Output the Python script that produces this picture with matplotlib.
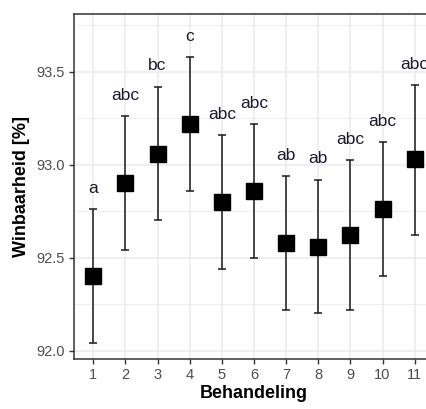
import matplotlib
matplotlib.use("Agg")
import matplotlib.pyplot as plt
from matplotlib.ticker import MultipleLocator

plt.rcParams['font.family'] = ['Liberation Sans', 'DejaVu Sans']

# Treatments, mean yield and interval bounds, significance letters
treatments = [1, 2, 3, 4, 5, 6, 7, 8, 9, 10, 11]
means = [92.40, 92.90, 93.06, 93.22, 92.80, 92.86, 92.58, 92.56, 92.62, 92.76, 93.03]
upper = [92.76, 93.26, 93.42, 93.58, 93.16, 93.22, 92.94, 92.92, 93.025, 93.12, 93.43]
lower = [92.04, 92.54, 92.70, 92.86, 92.44, 92.50, 92.22, 92.20, 92.22, 92.40, 92.62]
letters = ["a", "abc", "bc", "c", "abc", "abc", "ab", "ab", "abc", "abc", "abc"]

fig = plt.figure(figsize=(4.26, 4.09), dpi=100)
ax = fig.add_axes([0.1737, 0.1222, 0.845, 0.8435])

grid_c = "#EBEBEB"
ax.set_axisbelow(True)
ax.yaxis.set_major_locator(MultipleLocator(0.5))
ax.yaxis.set_minor_locator(MultipleLocator(0.25))
ax.grid(True, which="major", color=grid_c, lw=1.1)
ax.grid(True, which="minor", axis="y", color=grid_c, lw=0.6)
ax.tick_params(axis="y", which="minor", length=0)

yerr = [[m - l for m, l in zip(means, lower)], [u - m for m, u in zip(means, upper)]]
ax.errorbar(treatments, means, yerr=yerr, fmt="none", ecolor="#1a1a1a",
            elinewidth=1.1, capsize=3, capthick=1.1, zorder=2)
ax.plot(treatments, means, ls="none", marker="s", ms=11.5, color="black", zorder=3)

for x, u, t in zip(treatments, upper, letters):
    ax.annotate(t, (x, u), xytext=(0, 9.5), textcoords="offset points",
                ha="center", va="bottom", fontsize=12.5, color="#1a1a2e")

ax.set_xlim(0.4, 11.6)
ax.set_ylim(91.955, 93.81)
ax.set_xticks(treatments)
ax.set_yticks([92.0, 92.5, 93.0, 93.5])
ax.set_yticklabels(["92.0", "92.5", "93.0", "93.5"])

for s in ax.spines.values():
    s.set_color("#333333")
    s.set_linewidth(1.1)

ax.tick_params(axis="both", which="major", colors="#333333", length=3.5, width=1.0,
               labelsize=10.5, labelcolor="#4D4D4D", pad=3)

ax.set_xlabel("Behandeling", fontsize=13, fontweight="bold", labelpad=2)
ax.set_ylabel("Winbaarheid [%]", fontsize=13, fontweight="bold", labelpad=5)

fig.savefig("out.png", dpi=100)
